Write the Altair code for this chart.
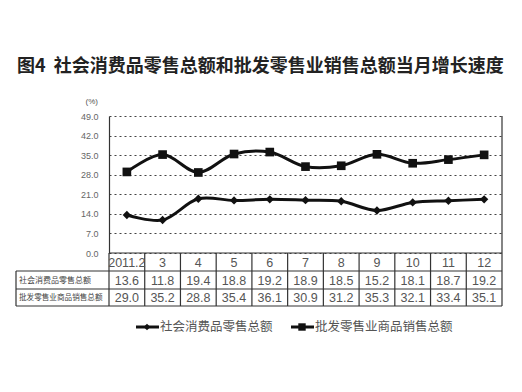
import altair as alt
import pandas as pd

cats = ["2011.2", "3", "4", "5", "6", "7", "8", "9", "10", "11", "12"]
retail = [13.6, 11.8, 19.4, 18.8, 19.2, 18.9, 18.5, 15.2, 18.1, 18.7, 19.2]
wholesale = [29.0, 35.2, 28.8, 35.4, 36.1, 30.9, 31.2, 35.3, 32.1, 33.4, 35.1]
series_names = ["社会消费品零售总额", "批发零售业商品销售总额"]
header_labels = ["社会消费品零售总额", "批发零售业商品销售总额"]
title_text = "图4\u00a0\u00a0社会消费品零售总额和批发零售业销售总额当月增长速度"
y_ticks = [0, 7, 14, 21, 28, 35, 42, 49]

W, H = 393, 137
CJK = "Noto Sans CJK SC"
NUM = "Liberation Sans"
LINE = "#333333"

df_r = pd.DataFrame({"cat": cats, "value": retail, "series": series_names[0]})
df_w = pd.DataFrame({"cat": cats, "value": wholesale, "series": series_names[1]})
df_cat = pd.DataFrame({"cat": cats})
one = pd.DataFrame({"a": [0]})

xscale = alt.Scale(type="band", domain=cats, paddingInner=0, paddingOuter=0)
yscale = alt.Scale(domain=[0, 49], nice=False, zero=True)

def X(bp=0.5):
    return alt.X("cat:N", scale=xscale, sort=cats, axis=None, bandPosition=bp)

yaxis = alt.Axis(values=y_ticks, format=".1f", labelColor="#666666", labelFontSize=9,
                 labelFont=NUM, ticks=False, domain=True, domainColor=LINE, domainWidth=1.2,
                 grid=True, gridDash=[2, 3], gridColor="#444444", gridWidth=1,
                 labelPadding=11, title=None)

def Y():
    return alt.Y("value:Q", scale=yscale, axis=yaxis)

line_r = alt.Chart(df_r).mark_line(color="#111111", strokeWidth=3, interpolate="catmull-rom").encode(x=X(), y=Y())
pts_r = alt.Chart(df_r).mark_point(shape="diamond", filled=True, color="#111111", size=70, opacity=1).encode(x=X(), y=Y())
line_w = alt.Chart(df_w).mark_line(color="#111111", strokeWidth=3, interpolate="catmull-rom").encode(x=X(), y=Y())
pts_w = alt.Chart(df_w).mark_point(shape="square", filled=True, color="#111111", size=75, opacity=1).encode(x=X(), y=Y())

# borders of plot area
right_border = alt.Chart(one).mark_rule(color=LINE, strokeWidth=1.2).encode(
    x=alt.value(W), y=alt.value(0), y2=alt.value(190))
# table horizontal lines
hlines = []
for yy, x0 in [(137, 0), (155, -93), (173, -93), (190, -93)]:
    hlines.append(alt.Chart(one).mark_rule(color=LINE, strokeWidth=1.2).encode(
        x=alt.value(x0), x2=alt.value(W), y=alt.value(yy)))
left_table = alt.Chart(one).mark_rule(color=LINE, strokeWidth=1.2).encode(
    x=alt.value(-93), y=alt.value(155), y2=alt.value(190))
vsep = alt.Chart(df_cat).mark_rule(color=LINE, strokeWidth=1.2).encode(
    x=X(0), y=alt.value(137), y2=alt.value(190))

# table texts
t_cat = alt.Chart(df_cat).mark_text(font=NUM, fontSize=12.5, color="#555555", baseline="middle").encode(
    x=X(), y=alt.value(146.5), text="cat:N")
t_r = alt.Chart(df_r).mark_text(font=NUM, fontSize=12.5, color="#555555", baseline="middle").encode(
    x=X(), y=alt.value(164.5), text=alt.Text("value:Q", format=".1f"))
t_w = alt.Chart(df_w).mark_text(font=NUM, fontSize=12.5, color="#555555", baseline="middle").encode(
    x=X(), y=alt.value(182), text=alt.Text("value:Q", format=".1f"))
t_h1 = alt.Chart(pd.DataFrame({"label": [header_labels[0]]})).mark_text(
    font=CJK, fontSize=8, color="#444444", align="left", baseline="middle").encode(
    x=alt.value(-90), y=alt.value(164.5), text="label:N")
t_h2 = alt.Chart(pd.DataFrame({"label": [header_labels[1]]})).mark_text(
    font=CJK, fontSize=7.6, color="#444444", align="left", baseline="middle").encode(
    x=alt.value(-90), y=alt.value(182), text="label:N")

# title and unit
title = alt.Chart(pd.DataFrame({"t": [title_text]})).mark_text(
    font=CJK, fontSize=18, fontWeight="bold", color="#222222", align="left", baseline="middle").encode(
    x=alt.value(-92), y=alt.value(-49), text="t:N")
unit = alt.Chart(pd.DataFrame({"t": ["(%)"]})).mark_text(
    font=NUM, fontSize=8, color="#555555", align="right", baseline="middle").encode(
    x=alt.value(-11), y=alt.value(-14), text="t:N")

# legend
leg = []
for (x0, x1, xm, xt, shape, name, sz) in [(27, 50, 38, 51, "diamond", series_names[0], 45),
                                          (182, 205, 193, 206, "square", series_names[1], 55)]:
    leg.append(alt.Chart(one).mark_rule(color="#111111", strokeWidth=3).encode(
        x=alt.value(x0), x2=alt.value(x1), y=alt.value(211)))
    leg.append(alt.Chart(one).mark_point(shape=shape, filled=True, color="#111111", size=sz, opacity=1).encode(
        x=alt.value(xm), y=alt.value(211)))
    leg.append(alt.Chart(pd.DataFrame({"t": [name]})).mark_text(
        font=CJK, fontSize=12.5, color="#555555", align="left", baseline="middle").encode(
        x=alt.value(xt), y=alt.value(211), text="t:N"))

chart = alt.layer(
    line_r, line_w, pts_r, pts_w, right_border, *hlines, left_table, vsep,
    t_cat, t_r, t_w, t_h1, t_h2, title, unit, *leg
).properties(
    width=W, height=H,
    autosize=alt.AutoSizeParams(type="none"),
    padding={"left": 101, "top": 108, "right": 12, "bottom": 131},
    background="white",
).configure_view(stroke=None)

chart.save("out.html", embed_options={"renderer": "svg", "actions": False})
